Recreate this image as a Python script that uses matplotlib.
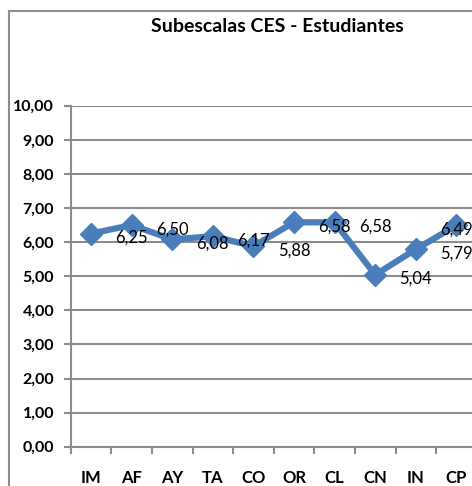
import matplotlib
matplotlib.use("Agg")
import matplotlib.pyplot as plt
from matplotlib.patches import Rectangle

categories = ["IM", "AF", "AY", "TA", "CO", "OR", "CL", "CN", "IN", "CP"]
values = [6.25, 6.50, 6.08, 6.17, 5.88, 6.58, 6.58, 5.04, 5.79, 6.49]
yticks = [0, 1, 2, 3, 4, 5, 6, 7, 8, 9, 10]
title = "Subescalas CES - Estudiantes"

plt.rcParams['font.family'] = ['Lato', 'DejaVu Sans']

W, H = 472, 486
fig = plt.figure(figsize=(W / 100, H / 100), dpi=100)
fig.patch.set_facecolor("white")

# outer chart border (cropped at right/bottom)
fig.add_artist(Rectangle((8.5 / W, -0.1), 1.2, (H - 10.5) / H + 0.1, transform=fig.transFigure,
                         fill=False, edgecolor="#8c8c8c", linewidth=1.5))

left = 70.7 / W
right = 476.7 / W
bottom = (H - 446.7) / H
top = (H - 105.7) / H
ax = fig.add_axes([left, bottom, right - left, top - bottom])

grid_c = "#8c8c8c"
x = list(range(len(categories)))
ax.plot(x, values, color="#4a7ebb", linewidth=4.5, marker="D", markersize=11.5,
        markerfacecolor="#4a7ebb", markeredgecolor="#4a7ebb", zorder=3, clip_on=False)

ax.set_xlim(-0.5, len(categories) - 0.5)
ax.set_ylim(0, 10)
ax.set_yticks(yticks)
ax.set_yticklabels([f"{v:.2f}".replace(".", ",") for v in yticks], fontweight="bold", fontsize=11.5)
ax.yaxis.grid(True, color=grid_c, linewidth=1.5)
ax.set_axisbelow(True)

ax.set_xticks([i + 0.5 for i in range(-1, len(categories))])
ax.set_xticklabels([])
ax.set_xticks(x, minor=True)
ax.set_xticklabels(categories, minor=True, fontweight="bold", fontsize=12)
ax.tick_params(axis="x", which="minor", length=0, pad=17)
ax.tick_params(axis="x", which="major", length=5, width=1.5, color=grid_c)
ax.tick_params(axis="y", length=5, width=1.5, color=grid_c, pad=7)

for s in ["top", "right"]:
    ax.spines[s].set_visible(False)
for s in ["left", "bottom"]:
    ax.spines[s].set_color(grid_c)
    ax.spines[s].set_linewidth(1.5)

# data labels: Excel placed them offset to the right
for i, v in enumerate(values):
    lx = i + 1 if i < len(values) - 1 else i
    ax.annotate(f"{v:.2f}".replace(".", ","), (lx, v), xytext=(0, -3), textcoords="offset points",
                ha="center", va="center", fontsize=12, color="black", annotation_clip=False)

fig.text(277 / W, (H - 27) / H, title, ha="center", va="center", fontsize=14, fontweight="bold")

fig.savefig("out.png", dpi=100)
